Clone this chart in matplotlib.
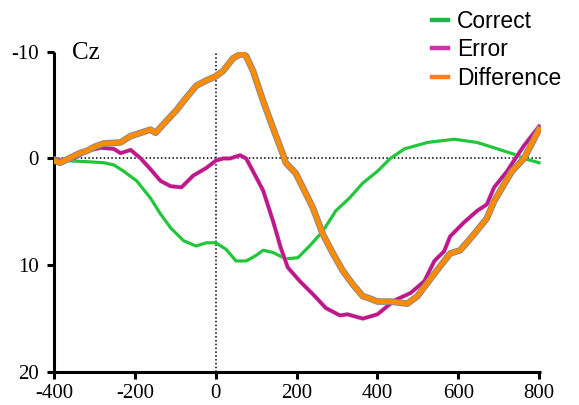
"""
ERP waveforms at Cz: correct vs error trials and their difference.
"""

import matplotlib
matplotlib.use("Agg")
import matplotlib.pyplot as plt
import matplotlib.patheffects as pe
from matplotlib.lines import Line2D

plt.rcParams["axes.unicode_minus"] = False

# Time (ms) / amplitude (uV)
correct_t = [-400, -376, -320, -278, -253, -228, -196, -162, -137, -112, -80, -49, -24, 0,
             25, 50, 75, 99, 117, 141, 173, 203, 232, 265, 297, 331, 364, 400, 432, 467,
             524, 590, 647, 697, 738, 763, 800]
correct_v = [0.0, 0.2, 0.3, 0.4, 0.6, 1.2, 2.1, 3.7, 5.2, 6.5, 7.7, 8.2, 7.9, 7.9,
             8.5, 9.6, 9.6, 9.1, 8.6, 8.8, 9.4, 9.3, 8.2, 6.8, 4.9, 3.7, 2.3, 1.2, 0.0, -0.9,
             -1.5, -1.8, -1.5, -0.9, -0.4, 0.0, 0.4]

error_t = [-400, -383, -351, -320, -285, -253, -236, -211, -186, -162, -137, -112, -85, -56,
           -24, 0, 18, 35, 60, 75, 92, 117, 141, 161, 178, 208, 240, 272, 307, 326, 364,
           400, 442, 482, 516, 541, 565, 580, 614, 647, 671, 689, 721, 738, 763, 800]
error_v = [0.0, 0.2, 0.0, -0.7, -1.0, -0.9, -0.5, -0.8, 0.0, 1.0, 2.1, 2.6, 2.7, 1.6,
           0.9, 0.2, 0.0, 0.0, -0.3, 0.0, 1.2, 3.0, 5.8, 8.4, 10.2, 11.5, 12.7, 14.0, 14.7, 14.6, 15.0,
           14.6, 13.3, 12.6, 11.5, 9.6, 8.7, 7.3, 6.0, 4.9, 4.3, 2.7, 1.2, 0.2, -1.2, -3.0]

diff_t = [-400, -385, -337, -320, -300, -278, -236, -211, -186, -162, -149, -130, -98, -73,
          -49, -24, 0, 18, 43, 63, 75, 92, 117, 141, 166, 173, 198, 215, 240, 265, 290,
          314, 339, 364, 380, 400, 432, 474, 499, 541, 580, 605, 639, 671, 689, 714, 733,
          763, 800]
diff_v = [0.2, 0.4, -0.5, -0.7, -1.1, -1.4, -1.5, -2.1, -2.4, -2.7, -2.4, -3.2, -4.5, -5.7,
          -6.8, -7.3, -7.7, -8.2, -9.4, -9.8, -9.6, -8.2, -5.4, -2.9, -0.4, 0.4, 1.4, 2.7, 4.6, 7.1, 8.9,
          10.5, 11.8, 12.9, 13.1, 13.4, 13.4, 13.6, 12.9, 10.8, 8.9, 8.6, 7.1, 5.6, 4.0, 2.4, 1.2,
          0.0, -2.7]

labels = ["Correct", "Error", "Difference"]
x_ticks = [-400, -200, 0, 200, 400, 600, 800]
y_ticks = [-10, 0, 10, 20]

green = "#22c63a"
magenta = "#c0168c"
orange = "#ff8c00"
legend_colors = ["#1db54a", "#cf35a0", "#ff7d1f"]

fig = plt.figure(figsize=(5.79, 4.05), dpi=100)
ax = fig.add_axes([54.3 / 579, 1 - 372 / 405, (541 - 54.3) / 579, (372 - 51.7) / 405])

ax.axhline(0, color="black", linestyle=(0, (1, 1.5)), linewidth=1.1, zorder=1)
ax.axvline(0, color="black", linestyle=(0, (1, 1.5)), linewidth=1.1, zorder=1)

ax.plot(correct_t, correct_v, color=green, linewidth=2.3, zorder=3)
ax.plot(error_t, error_v, color=magenta, linewidth=2.5, zorder=4,
        path_effects=[pe.Stroke(linewidth=3.2, foreground="#d9a0c8"), pe.Normal()])
ax.plot(diff_t, diff_v, color=orange, linewidth=3.4, zorder=5,
        path_effects=[pe.Stroke(linewidth=4.8, foreground="#8a8a8a"), pe.Normal()])

ax.set_xlim(-400, 805)
ax.set_ylim(20, -10)
ax.set_xticks(x_ticks)
ax.set_yticks(y_ticks)
ax.spines["top"].set_visible(False)
ax.spines["right"].set_visible(False)
for s in ["left", "bottom"]:
    ax.spines[s].set_linewidth(2.2)
    ax.spines[s].set_capstyle("butt")
ax.tick_params(width=2.2, length=5, labelsize=15)
ax.tick_params(axis="x", pad=4)
ax.tick_params(axis="y", pad=6)
for lab in ax.get_xticklabels() + ax.get_yticklabels():
    lab.set_fontfamily("Liberation Serif")

ax.text(-355, -9.9, "Cz", fontsize=18, family="Liberation Serif", va="center", ha="left")

handles = [Line2D([0], [0], color=c, linewidth=3.2) for c in legend_colors]
fig.legend(handles, labels, loc="upper left", bbox_to_anchor=(432 / 579, 1 - 10 / 405),
           frameon=False, prop={"family": "Liberation Sans", "size": 16.5},
           handlelength=0.7, handletextpad=0.38, labelspacing=0.24,
           borderpad=0, borderaxespad=0)

fig.savefig("out.png", dpi=100)
